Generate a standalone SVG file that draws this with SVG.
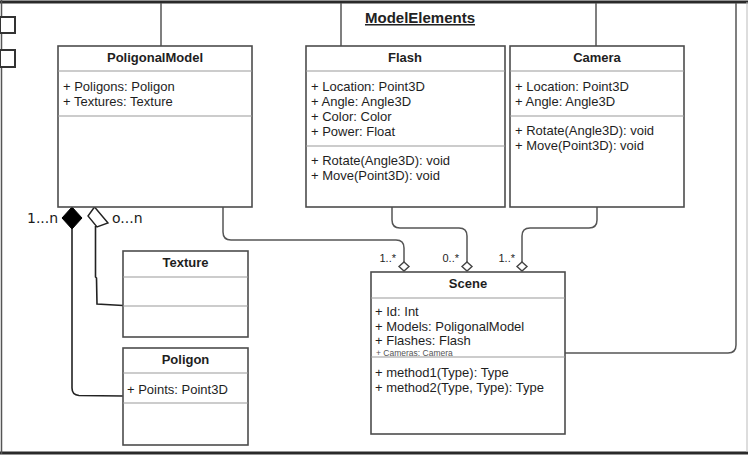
<svg xmlns="http://www.w3.org/2000/svg" width="754" height="456" viewBox="0 0 754 456">
<defs>
<style>
.box{fill:#fff;stroke:#4d4d4d;stroke-width:1.6}
.div{stroke:#9a9a9a;stroke-width:1.2}
.t{font-family:"Liberation Sans",Arial,sans-serif;font-size:13px;fill:#1e1e1e}
.h{font-family:"Liberation Sans",Arial,sans-serif;font-size:13px;font-weight:bold;fill:#1e1e1e;text-anchor:middle}
.m{font-family:"Liberation Sans",Arial,sans-serif;font-size:11px;fill:#1e1e1e;text-anchor:end}
.hw{font-family:"DejaVu Sans",sans-serif;font-size:14px;fill:#1a1a1a}
.c{fill:none;stroke:#555;stroke-width:1.5}
.hand{fill:none;stroke:#222;stroke-width:1.6}
.frame{fill:none;stroke:#2a2a2a;stroke-width:3}
.od{fill:#fff;stroke:#444;stroke-width:1.4}
</style>
</defs>
<rect width="754" height="456" fill="#fff"/>
<g id="frame">
<line class="frame" x1="0" y1="2" x2="748" y2="2"/>
<line class="frame" x1="0" y1="453" x2="748" y2="453"/>
<line x1="1.5" y1="0" x2="1.5" y2="454" stroke="#555" stroke-width="1.5"/>
<line x1="747" y1="2" x2="747" y2="452" stroke="#bbb" stroke-width="1"/>
<rect x="0" y="17" width="15" height="16" fill="#fff" stroke="#333" stroke-width="2"/>
<rect x="0" y="50" width="15" height="17" fill="#fff" stroke="#333" stroke-width="2"/>
<text x="420" y="23" style="font-family:'Liberation Sans',Arial,sans-serif;font-size:15px;font-weight:bold;fill:#222" text-anchor="middle" text-decoration="underline">ModelElements</text>
</g>
<g id="connectors">
<line class="c" x1="161" y1="46" x2="161" y2="3"/>
<line class="c" x1="341" y1="46" x2="341" y2="3"/>
<line class="c" x1="596" y1="46" x2="596" y2="3"/>
<path class="c" d="M565 353 H728 Q736 353 736 345 V3"/>
<path class="c" d="M223 207 V232 Q223 240 231 240 H396 Q404 240 404 248 V262"/>
<path class="c" d="M392 207 V220 Q392 228 400 228 H459 Q467 228 467 236 V262"/>
<path class="c" d="M597 207 V220 Q597 228 589 228 H530 Q522 228 522 236 V262"/>
<polygon class="od" points="404,262 409,266.5 404,271 399,266.5"/>
<polygon class="od" points="467,262 472,266.5 467,271 462,266.5"/>
<polygon class="od" points="522,262 527,266.5 522,271 517,266.5"/>
<text class="m" x="396" y="262">1..*</text>
<text class="m" x="459" y="262">0..*</text>
<text class="m" x="515" y="262">1..*</text>
<path class="hand" d="M72 229 V388 Q72 395 79 395.5 L123 396"/>
<path class="hand" d="M95.5 226 L95.5 277 L96.5 278 L97 304 L123 305.5"/>
<polygon points="72,207 82,218 72,229 62,218" fill="#000" stroke="#000" stroke-width="1"/>
<polygon points="88,216 94.5,207 108,223 97,227" fill="#fff" stroke="#222" stroke-width="1.4"/>
<text class="hw" x="27" y="223">1...n</text>
<text class="hw" x="112" y="223">o...n</text>
</g>
<g id="PoligonalModel">
<rect class="box" x="58" y="46" width="194" height="161"/>
<line class="div" x1="58" y1="71" x2="252" y2="71"/>
<line class="div" x1="58" y1="116" x2="252" y2="116"/>
<text class="h" x="155" y="62">PoligonalModel</text>
<text class="t" x="63" y="91">+ Poligons: Poligon</text>
<text class="t" x="63" y="106">+ Textures: Texture</text>
</g>
<g id="Flash">
<rect class="box" x="306" y="46" width="199" height="161"/>
<line class="div" x1="306" y1="71" x2="505" y2="71"/>
<line class="div" x1="306" y1="146" x2="505" y2="146"/>
<text class="h" x="405" y="62">Flash</text>
<text class="t" x="311" y="91">+ Location: Point3D</text>
<text class="t" x="311" y="106">+ Angle: Angle3D</text>
<text class="t" x="311" y="121">+ Color: Color</text>
<text class="t" x="311" y="136">+ Power: Float</text>
<text class="t" x="311" y="165">+ Rotate(Angle3D): void</text>
<text class="t" x="311" y="180">+ Move(Point3D): void</text>
</g>
<g id="Camera">
<rect class="box" x="510" y="46" width="174" height="161"/>
<line class="div" x1="510" y1="71" x2="684" y2="71"/>
<line class="div" x1="510" y1="116" x2="684" y2="116"/>
<text class="h" x="597" y="62">Camera</text>
<text class="t" x="515" y="91">+ Location: Point3D</text>
<text class="t" x="515" y="106">+ Angle: Angle3D</text>
<text class="t" x="515" y="135">+ Rotate(Angle3D): void</text>
<text class="t" x="515" y="150">+ Move(Point3D): void</text>
</g>
<g id="Texture">
<rect class="box" x="123" y="251" width="125" height="86"/>
<line class="div" x1="123" y1="277" x2="248" y2="277"/>
<line class="div" x1="123" y1="306" x2="248" y2="306"/>
<text class="h" x="185.5" y="267">Texture</text>
</g>
<g id="Poligon">
<rect class="box" x="123" y="348" width="125" height="97"/>
<line class="div" x1="123" y1="373" x2="248" y2="373"/>
<line class="div" x1="123" y1="403" x2="248" y2="403"/>
<text class="h" x="185.5" y="364">Poligon</text>
<text class="t" x="127" y="394">+ Points: Point3D</text>
</g>
<g id="Scene">
<rect class="box" x="371" y="272" width="194" height="162"/>
<line class="div" x1="371" y1="298" x2="565" y2="298"/>
<line class="div" x1="371" y1="357" x2="565" y2="357"/>
<text class="h" x="468" y="288">Scene</text>
<text class="t" x="375" y="316">+ Id: Int</text>
<text class="t" x="375" y="331">+ Models: PoligonalModel</text>
<text class="t" x="375" y="345">+ Flashes: Flash</text>
<text class="t" x="376" y="356" style="font-size:8.5px;fill:#555">+ Cameras: Camera</text>
<text class="t" x="375" y="377">+ method1(Type): Type</text>
<text class="t" x="375" y="392">+ method2(Type, Type): Type</text>
</g>
</svg>
